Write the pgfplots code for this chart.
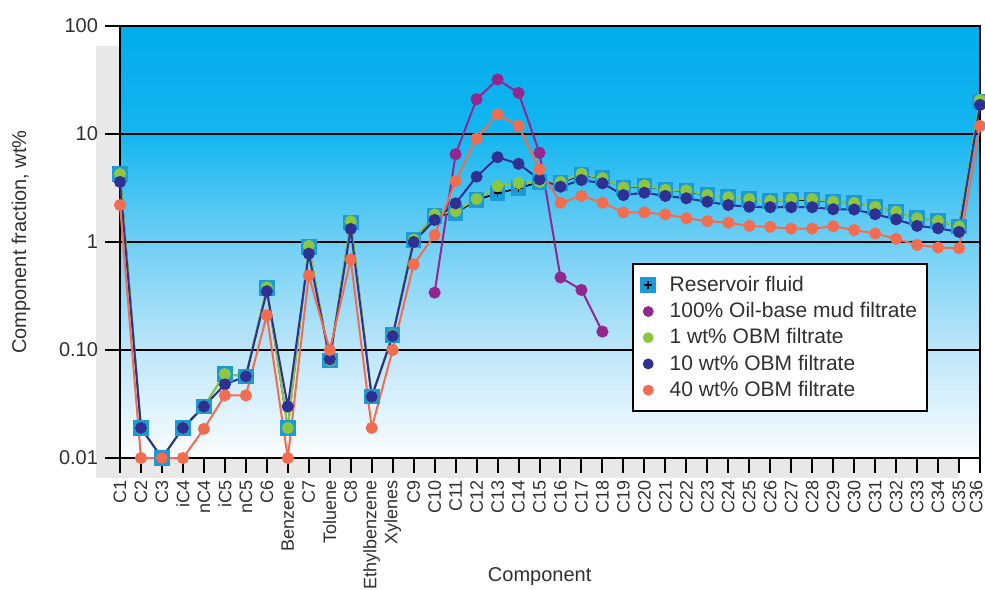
\documentclass[border=0pt]{standalone}
\usepackage{pgfplots}
\pgfplotsset{compat=1.18}
\usepackage{fontspec}
\setmainfont{Liberation Sans}
\definecolor{sqblue}{HTML}{1A9BD7}
\definecolor{obmpurple}{HTML}{92278F}
\definecolor{obmgreen}{HTML}{8DC63F}
\definecolor{obmnavy}{HTML}{2E3192}
\definecolor{obmorange}{HTML}{F26C4F}
\definecolor{bgA}{HTML}{00ACEC}
\definecolor{bgB}{HTML}{14B6EF}
\definecolor{bgC}{HTML}{70CFF5}
\definecolor{bgD}{HTML}{BDE6F9}
\definecolor{bgE}{HTML}{FBFDFF}
\definecolor{txt}{HTML}{303030}
\pgfdeclareverticalshading{plotbg}{100bp}{color(0bp)=(bgE); color(25bp)=(bgE); color(37.5bp)=(bgD); color(50bp)=(bgC); color(62.5bp)=(bgB); color(75bp)=(bgA); color(100bp)=(bgA)}
\begin{document}
\begin{tikzpicture}
\fill[black!9] (-12pt,-10pt) rectangle (419pt,206pt);
\begin{axis}[
  at={(0,0)}, anchor=south west,
  scale only axis, width=430pt, height=216pt,
  ymode=log, ymin=0.01, ymax=100,
  xmin=0, xmax=41,
  clip=false,
  axis background/.style={shading=plotbg},
  axis line style={black, line width=1pt},
  ytick={0.01,0.1,1,10,100},
  yticklabels={0.01,0.10,1,10,100},
  yminorticks=false,
  ymajorgrids, major grid style={black, line width=1pt},
  xtick={0,...,41},
  xticklabels={C1,C2,C3,iC4,nC4,iC5,nC5,C6,Benzene,C7,Toluene,C8,Ethylbenzene,Xylenes,C9,C10,C11,C12,C13,C14,C15,C16,C17,C18,C19,C20,C21,C22,C23,C24,C25,C26,C27,C28,C29,C30,C31,C32,C33,C34,C35,\raisebox{4pt}{C36}},
  tick align=outside, xtick pos=bottom, ytick pos=left,
  major tick length=7.5pt,
  tick style={black, line width=1pt},
  xticklabel style={rotate=90, anchor=east, font=\fontsize{9}{10}\selectfont, text=txt},
  yticklabel style={font=\fontsize{10}{12}\selectfont, text=txt},
  ylabel={Component fraction, wt\%},
  xlabel={Component},
  every axis y label/.style={at={(axis description cs:0,0.5)}, xshift=-49.5pt, rotate=90, anchor=center, font=\fontsize{10}{12}\selectfont, text=txt},
  every axis x label/.style={at={(axis description cs:0.488,0)}, yshift=-59.5pt, anchor=center, font=\fontsize{10}{12}\selectfont, text=txt},
  legend style={at={(rel axis cs:0.595,0.451)}, anchor=north west, draw=black, line width=1pt, fill=white, font=\fontsize{10.5}{12}\selectfont, text=txt, inner xsep=3pt, inner ysep=4pt, row sep=0pt},
  legend cell align=left,
  legend image code/.code={\path (0pt,0pt) (12.5pt,0pt); \draw[#1, only marks, line width=0.4pt] plot coordinates {(0.15cm,0cm)};},
]
\addplot[black, line width=0.8pt, mark=square*, mark size=3.5pt, mark options={fill=sqblue, draw=sqblue},
  legend image code/.code={\path (0pt,0pt) (12.5pt,0pt); \fill[sqblue] (0.15cm-3.5pt,-3.5pt) rectangle (0.15cm+3.5pt,3.5pt); \draw[black, line width=0.8pt] (0.15cm-2pt,0pt) -- (0.15cm+2pt,0pt) (0.15cm,-2pt) -- (0.15cm,2pt);}]
coordinates {(0,4.27)(1,0.019)(2,0.01)(3,0.019)(4,0.030)(5,0.060)(6,0.057)(7,0.375)(8,0.019)(9,0.90)(10,0.080)(11,1.52)(12,0.037)(13,0.138)(14,1.05)(15,1.74)(16,1.85)(17,2.45)(18,2.83)(19,3.14)(20,3.6)(21,3.54)(22,4.2)(23,3.9)(24,3.18)(25,3.3)(26,3.05)(27,2.95)(28,2.72)(29,2.6)(30,2.5)(31,2.41)(32,2.45)(33,2.45)(34,2.36)(35,2.3)(36,2.12)(37,1.91)(38,1.66)(39,1.57)(40,1.39)(41,20)};
\addlegendentry{Reservoir fluid}
\addplot[forget plot, only marks, mark=+, black, line width=0.8pt, mark size=2pt]
coordinates {(0,4.27)(1,0.019)(2,0.01)(3,0.019)(4,0.030)(5,0.060)(6,0.057)(7,0.375)(8,0.019)(9,0.90)(10,0.080)(11,1.52)(12,0.037)(13,0.138)(14,1.05)(15,1.74)(16,1.85)(17,2.45)(18,2.83)(19,3.14)(20,3.6)(21,3.54)(22,4.2)(23,3.9)(24,3.18)(25,3.3)(26,3.05)(27,2.95)(28,2.72)(29,2.6)(30,2.5)(31,2.41)(32,2.45)(33,2.45)(34,2.36)(35,2.3)(36,2.12)(37,1.91)(38,1.66)(39,1.57)(40,1.39)(41,20)};
\addplot[obmpurple, line width=1pt, mark=*, mark size=2.5pt]
coordinates {(15,0.34)(16,6.5)(17,21)(18,32)(19,24)(20,6.7)(21,0.47)(22,0.36)(23,0.148)};
\addlegendentry{100\% Oil-base mud filtrate}
\addplot[obmgreen, line width=1pt, mark=*, mark size=2.5pt]
coordinates {(0,4.27)(1,0.019)(2,0.01)(3,0.019)(4,0.030)(5,0.060)(6,0.057)(7,0.38)(8,0.019)(9,0.92)(10,0.080)(11,1.55)(12,0.037)(13,0.138)(14,1.05)(15,1.8)(16,1.93)(17,2.5)(18,3.3)(19,3.5)(20,3.6)(21,3.6)(22,4.3)(23,3.9)(24,3.2)(25,3.35)(26,3.05)(27,3.0)(28,2.72)(29,2.6)(30,2.5)(31,2.41)(32,2.5)(33,2.5)(34,2.36)(35,2.3)(36,2.12)(37,1.91)(38,1.66)(39,1.57)(40,1.39)(41,20.6)};
\addlegendentry{1 wt\% OBM filtrate}
\addplot[obmnavy, line width=1pt, mark=*, mark size=2.5pt]
coordinates {(0,3.6)(1,0.019)(2,0.01)(3,0.019)(4,0.030)(5,0.048)(6,0.057)(7,0.35)(8,0.030)(9,0.78)(10,0.082)(11,1.32)(12,0.037)(13,0.135)(14,1.0)(15,1.6)(16,2.28)(17,4.03)(18,6.1)(19,5.3)(20,3.8)(21,3.25)(22,3.75)(23,3.5)(24,2.72)(25,2.86)(26,2.67)(27,2.54)(28,2.36)(29,2.2)(30,2.12)(31,2.1)(32,2.1)(33,2.1)(34,2.01)(35,2.0)(36,1.81)(37,1.62)(38,1.41)(39,1.34)(40,1.24)(41,18.6)};
\addlegendentry{10 wt\% OBM filtrate}
\addplot[obmorange, line width=1pt, mark=*, mark size=2.5pt]
coordinates {(0,2.2)(1,0.01)(2,0.01)(3,0.01)(4,0.0186)(5,0.038)(6,0.038)(7,0.21)(8,0.01)(9,0.49)(10,0.1)(11,0.69)(12,0.019)(13,0.1)(14,0.62)(15,1.16)(16,3.67)(17,9.1)(18,15.2)(19,11.9)(20,4.7)(21,2.31)(22,2.67)(23,2.31)(24,1.88)(25,1.88)(26,1.8)(27,1.66)(28,1.56)(29,1.51)(30,1.41)(31,1.38)(32,1.33)(33,1.33)(34,1.4)(35,1.29)(36,1.2)(37,1.07)(38,0.94)(39,0.89)(40,0.875)(41,11.9)};
\addlegendentry{40 wt\% OBM filtrate}
\end{axis}
\pgfresetboundingbox
\path[use as bounding box] (-60pt,-65.5pt) rectangle (432.5pt,229pt);
\end{tikzpicture}
\end{document}
